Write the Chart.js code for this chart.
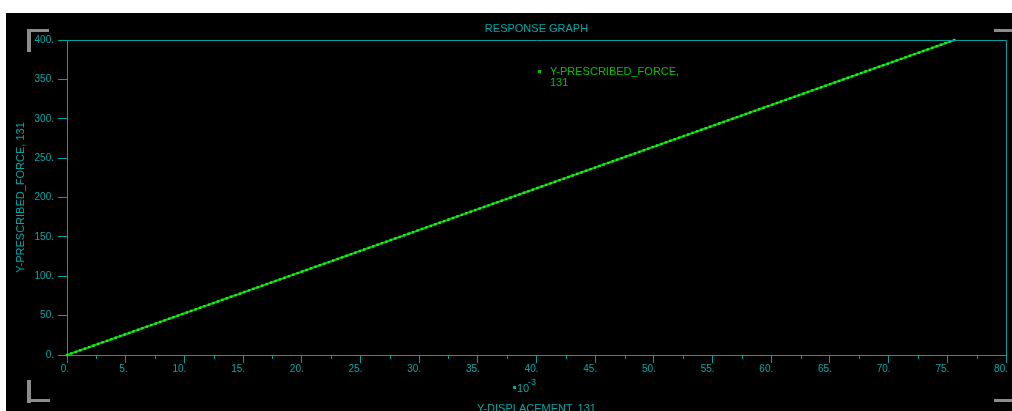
<!DOCTYPE html>
<html>
<head>
<meta charset="utf-8">
<title>Response Graph</title>
<style>
  html, body { margin: 0; padding: 0; background: #ffffff; overflow: hidden; }
  canvas { display: block; }
</style>
<script src="https://cdn.jsdelivr.net/npm/chart.js@4.4.1/dist/chart.umd.min.js"></script>
</head>
<body>
<canvas id="graph" width="1012" height="411"></canvas>
<script>
// Y-displacement of node 131, in units of 10^-3
const displacementE3 = [
  0, 0.378, 0.756, 1.134, 1.512, 1.89, 2.268, 2.646, 3.024, 3.402,
  3.78, 4.158, 4.536, 4.914, 5.292, 5.67, 6.048, 6.426, 6.804, 7.182,
  7.56, 7.938, 8.316, 8.694, 9.072, 9.45, 9.828, 10.206, 10.584, 10.962,
  11.34, 11.718, 12.096, 12.474, 12.852, 13.23, 13.608, 13.986, 14.364, 14.742,
  15.12, 15.498, 15.876, 16.254, 16.632, 17.01, 17.388, 17.766, 18.144, 18.522,
  18.9, 19.278, 19.656, 20.034, 20.412, 20.79, 21.168, 21.546, 21.924, 22.302,
  22.68, 23.058, 23.436, 23.814, 24.192, 24.57, 24.948, 25.326, 25.704, 26.082,
  26.46, 26.838, 27.216, 27.594, 27.972, 28.35, 28.728, 29.106, 29.484, 29.862,
  30.24, 30.618, 30.996, 31.374, 31.752, 32.13, 32.508, 32.886, 33.264, 33.642,
  34.02, 34.398, 34.776, 35.154, 35.532, 35.91, 36.288, 36.666, 37.044, 37.422,
  37.8, 38.178, 38.556, 38.934, 39.312, 39.69, 40.068, 40.446, 40.824, 41.202,
  41.58, 41.958, 42.336, 42.714, 43.092, 43.47, 43.848, 44.226, 44.604, 44.982,
  45.36, 45.738, 46.116, 46.494, 46.872, 47.25, 47.628, 48.006, 48.384, 48.762,
  49.14, 49.518, 49.896, 50.274, 50.652, 51.03, 51.408, 51.786, 52.164, 52.542,
  52.92, 53.298, 53.676, 54.054, 54.432, 54.81, 55.188, 55.566, 55.944, 56.322,
  56.7, 57.078, 57.456, 57.834, 58.212, 58.59, 58.968, 59.346, 59.724, 60.102,
  60.48, 60.858, 61.236, 61.614, 61.992, 62.37, 62.748, 63.126, 63.504, 63.882,
  64.26, 64.638, 65.016, 65.394, 65.772, 66.15, 66.528, 66.906, 67.284, 67.662,
  68.04, 68.418, 68.796, 69.174, 69.552, 69.93, 70.308, 70.686, 71.064, 71.442,
  71.82, 72.198, 72.576, 72.954, 73.332, 73.71, 74.088, 74.466, 74.844, 75.222,
  75.6
];

// Y-prescribed force on node 131
const prescribedForce = [
  0, 2, 4, 6, 8, 10, 12, 14, 16, 18,
  20, 22, 24, 26, 28, 30, 32, 34, 36, 38,
  40, 42, 44, 46, 48, 50, 52, 54, 56, 58,
  60, 62, 64, 66, 68, 70, 72, 74, 76, 78,
  80, 82, 84, 86, 88, 90, 92, 94, 96, 98,
  100, 102, 104, 106, 108, 110, 112, 114, 116, 118,
  120, 122, 124, 126, 128, 130, 132, 134, 136, 138,
  140, 142, 144, 146, 148, 150, 152, 154, 156, 158,
  160, 162, 164, 166, 168, 170, 172, 174, 176, 178,
  180, 182, 184, 186, 188, 190, 192, 194, 196, 198,
  200, 202, 204, 206, 208, 210, 212, 214, 216, 218,
  220, 222, 224, 226, 228, 230, 232, 234, 236, 238,
  240, 242, 244, 246, 248, 250, 252, 254, 256, 258,
  260, 262, 264, 266, 268, 270, 272, 274, 276, 278,
  280, 282, 284, 286, 288, 290, 292, 294, 296, 298,
  300, 302, 304, 306, 308, 310, 312, 314, 316, 318,
  320, 322, 324, 326, 328, 330, 332, 334, 336, 338,
  340, 342, 344, 346, 348, 350, 352, 354, 356, 358,
  360, 362, 364, 366, 368, 370, 372, 374, 376, 378,
  380, 382, 384, 386, 388, 390, 392, 394, 396, 398,
  400
];

// Axis ticks
const xMajorTicks = [0, 5, 10, 15, 20, 25, 30, 35, 40, 45, 50, 55, 60, 65, 70, 75, 80];
const xMinorTicks = [2.5, 7.5, 12.5, 17.5, 22.5, 27.5, 32.5, 37.5, 42.5, 47.5, 52.5, 57.5, 62.5, 67.5, 72.5, 77.5];
const yTicks = [0, 50, 100, 150, 200, 250, 300, 350, 400];

// Texts
const graphTitle = 'RESPONSE GRAPH';
const seriesName = ['Y-PRESCRIBED_FORCE,', '131'];
const yAxisTitle = 'Y-PRESCRIBED_FORCE, 131';
const xAxisTitle = 'Y-DISPLACEMENT, 131';
const xScaleBase = '10';
const xScaleExp = '-3';

const AXIS = '#00a0a0';
const TEXT = '#00a8a8';
const CURVE = '#00c800';
const MARK = '#22f022';
const LEGEND = '#00c400';
const CORNER = '#8c8c8c';
const FONT = '"Liberation Sans", Arial, sans-serif';

const points = displacementE3.map((d, i) => ({ x: d, y: prescribedForce[i] }));

const screenFrame = {
  id: 'screenFrame',
  beforeDraw(chart) {
    const ctx = chart.ctx;
    ctx.save();
    ctx.fillStyle = '#ffffff';
    ctx.fillRect(0, 0, chart.width, chart.height);
    ctx.fillStyle = '#000000';
    ctx.fillRect(6, 13, chart.width - 6, chart.height - 13);
    ctx.restore();
  },
  afterDraw(chart) {
    const ctx = chart.ctx;
    const a = chart.chartArea;
    const xs = chart.scales.x;
    ctx.save();

    // top and right edges of the plot frame
    ctx.strokeStyle = AXIS;
    ctx.lineWidth = 1;
    ctx.beginPath();
    ctx.moveTo(a.left, Math.round(a.top) + 0.5);
    ctx.lineTo(Math.round(a.right) + 0.5, Math.round(a.top) + 0.5);
    ctx.lineTo(Math.round(a.right) + 0.5, a.bottom);
    ctx.stroke();

    // minor ticks on the displacement axis
    ctx.beginPath();
    xMinorTicks.forEach(v => {
      const px = Math.round(xs.getPixelForValue(v)) + 0.5;
      ctx.moveTo(px, a.bottom);
      ctx.lineTo(px, a.bottom + 4);
    });
    ctx.stroke();

    // title
    ctx.fillStyle = TEXT;
    ctx.font = '11px ' + FONT;
    ctx.textAlign = 'center';
    ctx.textBaseline = 'alphabetic';
    ctx.fillText(graphTitle, (a.left + a.right) / 2, 32);

    // axis titles
    ctx.fillText(xAxisTitle, (a.left + a.right) / 2, 412);
    ctx.save();
    ctx.translate(24, (a.top + a.bottom) / 2);
    ctx.rotate(-Math.PI / 2);
    ctx.fillText(yAxisTitle, 0, 0);
    ctx.restore();

    // scale factor of the displacement axis
    ctx.fillRect(513, 386, 3, 3);
    ctx.textAlign = 'left';
    ctx.font = '11px ' + FONT;
    ctx.fillText(xScaleBase, 517, 392);
    ctx.font = '9px ' + FONT;
    ctx.fillText(xScaleExp, 528, 385);

    // legend
    ctx.fillStyle = LEGEND;
    ctx.fillRect(538, 70, 3, 3);
    ctx.font = '11px ' + FONT;
    ctx.fillText(seriesName[0], 550, 75);
    ctx.fillText(seriesName[1], 550, 86);

    // corner brackets
    ctx.fillStyle = CORNER;
    ctx.fillRect(27, 29, 22, 3);
    ctx.fillRect(27, 29, 4, 23);
    ctx.fillRect(27, 380, 4, 23);
    ctx.fillRect(27, 399, 23, 3);
    ctx.fillRect(994, 29, 18, 3);
    ctx.fillRect(994, 399, 18, 3);

    ctx.restore();
  }
};

new Chart(document.getElementById('graph'), {
  type: 'scatter',
  data: {
    datasets: [{
      label: seriesName.join(' '),
      data: points,
      showLine: true,
      borderColor: CURVE,
      borderWidth: 2,
      pointStyle: 'rect',
      pointRadius: 1.7,
      pointBorderWidth: 0,
      pointBackgroundColor: MARK,
      clip: false
    }]
  },
  options: {
    responsive: false,
    animation: false,
    devicePixelRatio: 1,
    layout: { padding: { top: 40, right: 6, bottom: 0, left: 0 } },
    plugins: {
      legend: { display: false },
      title: { display: false },
      tooltip: { enabled: false }
    },
    scales: {
      x: {
        type: 'linear',
        min: 0,
        max: 80,
        afterBuildTicks(scale) { scale.ticks = xMajorTicks.map(v => ({ value: v })); },
        afterFit(scale) { scale.height = 56; },
        grid: { drawOnChartArea: false, drawTicks: true, tickLength: 8, tickColor: AXIS, tickWidth: 1 },
        border: { display: true, color: AXIS, width: 1 },
        ticks: {
          autoSkip: false,
          maxRotation: 0,
          align: 'end',
          labelOffset: 2,
          padding: 0,
          color: TEXT,
          font: { family: FONT, size: 10 },
          callback: v => v + '.'
        }
      },
      y: {
        type: 'linear',
        min: 0,
        max: 400,
        afterBuildTicks(scale) { scale.ticks = yTicks.map(v => ({ value: v })); },
        afterFit(scale) { scale.width = 67; },
        grid: { drawOnChartArea: false, drawTicks: true, tickLength: 9, tickColor: AXIS, tickWidth: 1 },
        border: { display: true, color: AXIS, width: 1 },
        ticks: {
          padding: 4,
          color: TEXT,
          font: { family: FONT, size: 10 },
          callback: v => v + '.'
        }
      }
    }
  },
  plugins: [screenFrame]
});
</script>
</body>
</html>
